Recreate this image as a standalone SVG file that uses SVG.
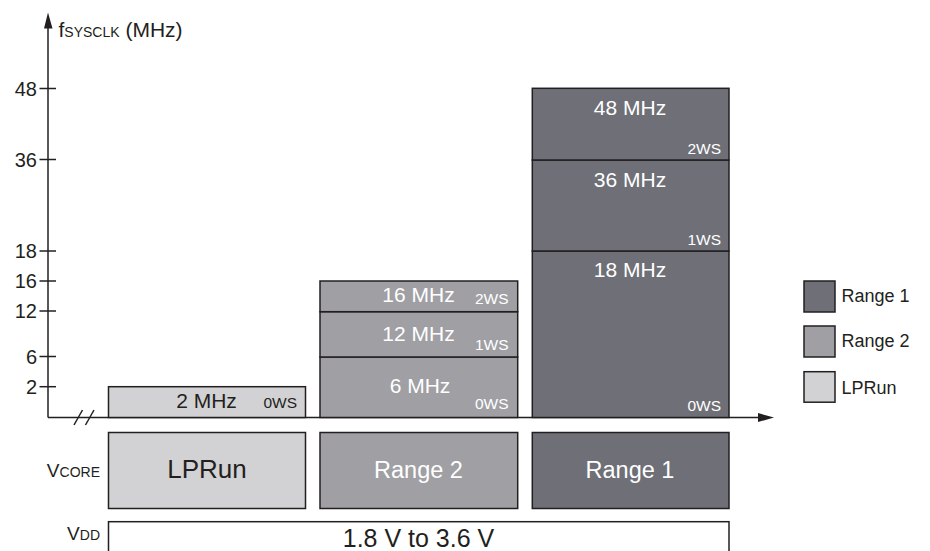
<svg xmlns="http://www.w3.org/2000/svg" width="930" height="551" viewBox="0 0 930 551">
<style>
text{font-family:"Liberation Sans",Arial,sans-serif;fill:#231f20}
.r1{fill:#6f6f77;stroke:#231f20;stroke-width:1.5}
.r2{fill:#a09fa4;stroke:#231f20;stroke-width:1.5}
.lp{fill:#d2d2d4;stroke:#231f20;stroke-width:1.5}
.w{fill:#ffffff}
.mhz{font-size:21px;text-anchor:middle}
.ws{font-size:15.5px;text-anchor:end}
.tick{font-size:20px;text-anchor:end}
.ax{stroke:#231f20;stroke-width:1.5;fill:none}
.leg{font-size:18px}
</style>
<g id="axes">
<line class="ax" x1="48" y1="417.5" x2="48" y2="26"/>
<polygon points="48,12.5 44,28.5 52.5,28.5" fill="#231f20"/>
<line class="ax" x1="48" y1="417.5" x2="759" y2="417.5"/>
<polygon points="774,417.5 758,413 758,422" fill="#231f20"/>
<line class="ax" x1="74" y1="425" x2="82.5" y2="410"/>
<line class="ax" x1="85.5" y1="425" x2="94" y2="410"/>
<line class="ax" x1="39.5" y1="88.5" x2="56" y2="88.5"/>
<line class="ax" x1="39.5" y1="159.5" x2="56" y2="159.5"/>
<line class="ax" x1="39.5" y1="251" x2="56" y2="251"/>
<line class="ax" x1="39.5" y1="281" x2="56" y2="281"/>
<line class="ax" x1="39.5" y1="311" x2="56" y2="311"/>
<line class="ax" x1="39.5" y1="356.5" x2="56" y2="356.5"/>
<line class="ax" x1="39.5" y1="386.7" x2="56" y2="386.7"/>
<text class="tick" x="37" y="95.5">48</text>
<text class="tick" x="37" y="166.5">36</text>
<text class="tick" x="37" y="258">18</text>
<text class="tick" x="37" y="288">16</text>
<text class="tick" x="37" y="318">12</text>
<text class="tick" x="37" y="363.5">6</text>
<text class="tick" x="37" y="393.7">2</text>
<text x="58.5" y="37.3" font-size="21px">f<tspan font-size="14px">SYSCLK</tspan> (MHz)</text>
</g>
<g id="lprun-bar">
<rect class="lp" x="108.5" y="386.7" width="197" height="30.8"/>
<text class="mhz" x="206.5" y="408.3">2 MHz</text>
<text class="ws" x="297" y="408.3">0WS</text>
</g>
<g id="range2-bars">
<rect class="r2" x="320" y="357" width="197.7" height="60.5"/>
<rect class="r2" x="320" y="311.7" width="197.7" height="45.3"/>
<rect class="r2" x="320" y="281" width="197.7" height="30.7"/>
<text class="mhz w" x="418.5" y="302.3">16 MHz</text>
<text class="ws w" x="508.5" y="304.3">2WS</text>
<text class="mhz w" x="418.5" y="340.7">12 MHz</text>
<text class="ws w" x="508.5" y="350">1WS</text>
<text class="mhz w" x="420" y="392.7">6 MHz</text>
<text class="ws w" x="508.5" y="409.3">0WS</text>
</g>
<g id="range1-bars">
<rect class="r1" x="532.3" y="251" width="196.7" height="166.5"/>
<rect class="r1" x="532.3" y="160" width="196.7" height="91"/>
<rect class="r1" x="532.3" y="88.3" width="196.7" height="71.7"/>
<text class="mhz w" x="630" y="115">48 MHz</text>
<text class="ws w" x="721" y="154">2WS</text>
<text class="mhz w" x="630" y="186.7">36 MHz</text>
<text class="ws w" x="721" y="245">1WS</text>
<text class="mhz w" x="630" y="277.3">18 MHz</text>
<text class="ws w" x="721" y="411">0WS</text>
</g>
<g id="vcore">
<text x="100" y="476.7" font-size="19px" text-anchor="end">V<tspan font-size="14px">CORE</tspan></text>
<rect class="lp" x="108.5" y="432.5" width="197" height="76"/>
<text x="207" y="478.3" font-size="26px" text-anchor="middle">LPRun</text>
<rect class="r2" x="320" y="432.5" width="197.7" height="76"/>
<text class="w" x="418.5" y="478.3" font-size="23.5px" text-anchor="middle">Range 2</text>
<rect class="r1" x="532.3" y="432.5" width="196.7" height="76"/>
<text class="w" x="630" y="478.3" font-size="23.5px" text-anchor="middle">Range 1</text>
</g>
<g id="vdd">
<text x="100" y="540" font-size="19px" text-anchor="end">V<tspan font-size="14px">DD</tspan></text>
<rect x="108.5" y="521.7" width="620.5" height="40" fill="#ffffff" stroke="#231f20" stroke-width="1.5"/>
<text x="418.5" y="546.7" font-size="25px" text-anchor="middle">1.8 V to 3.6 V</text>
</g>
<g id="legend">
<rect class="r1" x="804" y="281" width="31" height="31"/>
<text class="leg" x="841.5" y="301.7">Range 1</text>
<rect class="r2" x="804" y="326" width="31" height="31"/>
<text class="leg" x="841.5" y="347.3">Range 2</text>
<rect class="lp" x="804" y="371.7" width="31" height="30.5"/>
<text class="leg" x="841.5" y="394">LPRun</text>
</g>
</svg>
